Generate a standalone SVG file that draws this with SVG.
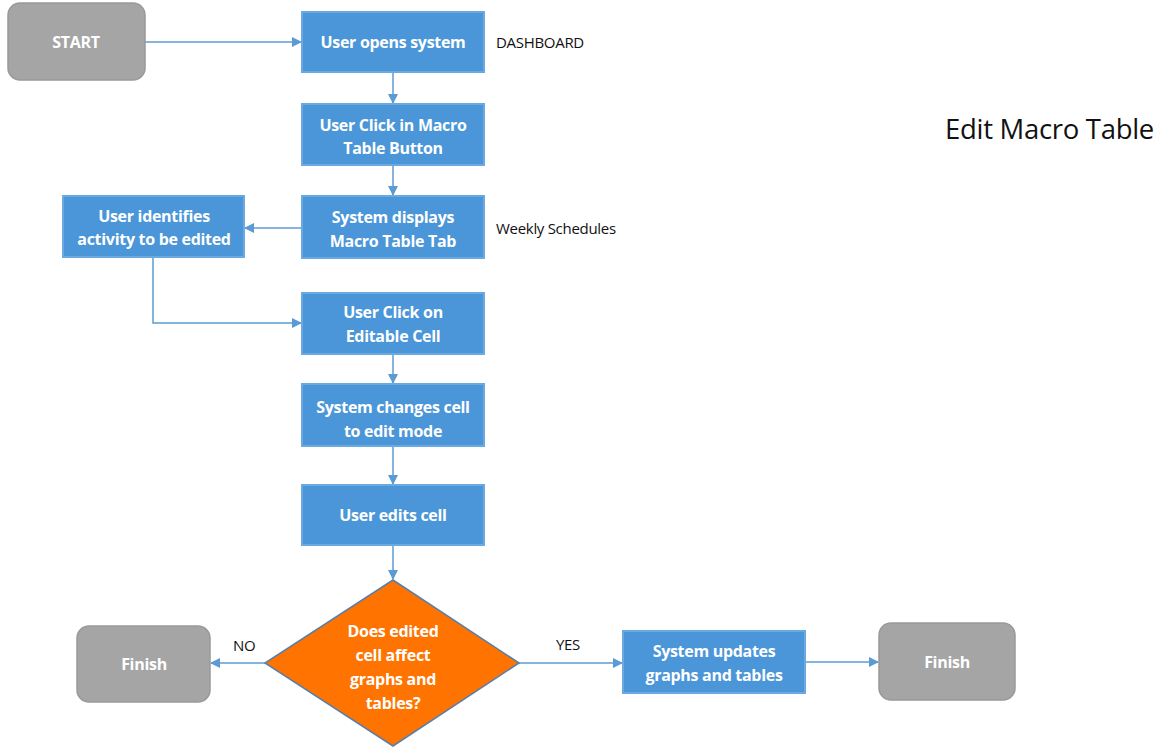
<svg xmlns="http://www.w3.org/2000/svg" width="1166" height="748" viewBox="0 0 1166 748">
<defs>
<marker id="ah" markerWidth="10" markerHeight="10" refX="9" refY="5" orient="auto" markerUnits="userSpaceOnUse">
<path d="M0,0 L10,5 L0,10 Z" fill="#5b9bd5"/>
</marker>
<style>
.blue{fill:#4a96d8;stroke:#6aaae0;stroke-width:2}
.gray{fill:#a5a5a5;stroke:#999;stroke-width:1.5}
.dia{fill:#ff7300;stroke:#5a7ea8;stroke-width:1.5}
.t{font-family:"Open Sans","Liberation Sans",sans-serif;font-weight:bold;font-size:16px;fill:#fff;text-anchor:middle;letter-spacing:-0.3px}
.lbl{font-family:"Open Sans","Liberation Sans",sans-serif;font-size:15px;fill:#111;letter-spacing:-0.3px}
.c{fill:none;stroke:#5b9bd5;stroke-width:1.5;marker-end:url(#ah)}
</style>
</defs>
<rect width="1166" height="748" fill="#fff"/>
<g id="connectors">
<path class="c" d="M145,42 H301"/>
<path class="c" d="M393,72 V103"/>
<path class="c" d="M393,165 V195"/>
<path class="c" d="M302,228 H245"/>
<path class="c" d="M153,257 V323 H301"/>
<path class="c" d="M393,354 V383"/>
<path class="c" d="M393,446 V484"/>
<path class="c" d="M393,545 V579"/>
<path class="c" d="M265,663 H211"/>
<path class="c" d="M519,663 H622"/>
<path class="c" d="M805,662 H878"/>
</g>
<g id="start"><rect class="gray" x="8" y="3" width="137" height="77" rx="12"/><text class="t" x="76" y="48">START</text></g>
<g id="n1"><rect class="blue" x="302" y="12" width="182" height="60"/><text class="t" x="393" y="48">User opens system</text></g>
<g id="n2"><rect class="blue" x="302" y="104" width="182" height="61"/><text class="t" x="393" y="131">User Click in Macro</text><text class="t" x="393" y="154">Table Button</text></g>
<g id="n3"><rect class="blue" x="302" y="196" width="182" height="62"/><text class="t" x="393" y="223">System displays</text><text class="t" x="393" y="247">Macro Table Tab</text></g>
<g id="n4"><rect class="blue" x="63" y="196" width="181" height="61"/><text class="t" x="154" y="222">User identifies</text><text class="t" x="154" y="245">activity to be edited</text></g>
<g id="n5"><rect class="blue" x="302" y="293" width="182" height="61"/><text class="t" x="393" y="318">User Click on</text><text class="t" x="393" y="342">Editable Cell</text></g>
<g id="n6"><rect class="blue" x="302" y="384" width="182" height="62"/><text class="t" x="393" y="413">System changes cell</text><text class="t" x="393" y="437">to edit mode</text></g>
<g id="n7"><rect class="blue" x="302" y="485" width="182" height="60"/><text class="t" x="393" y="521">User edits cell</text></g>
<g id="dec"><polygon class="dia" points="393,580 519,663 393,746 265,663"/>
<text class="t" x="393" y="637">Does edited</text><text class="t" x="393" y="661">cell affect</text><text class="t" x="393" y="685">graphs and</text><text class="t" x="393" y="709">tables?</text></g>
<g id="finish1"><rect class="gray" x="77" y="626" width="133" height="76" rx="12"/><text class="t" x="144" y="670">Finish</text></g>
<g id="n8"><rect class="blue" x="623" y="631" width="182" height="62"/><text class="t" x="714" y="657">System updates</text><text class="t" x="714" y="681">graphs and tables</text></g>
<g id="finish2"><rect class="gray" x="879" y="623" width="136" height="77" rx="12"/><text class="t" x="947" y="668">Finish</text></g>
<g id="labels">
<text class="lbl" x="496" y="48">DASHBOARD</text>
<text class="lbl" x="496" y="234">Weekly Schedules</text>
<text class="lbl" x="233" y="651">NO</text>
<text class="lbl" x="556" y="650">YES</text>
<text x="945" y="139" style="font-family:'Open Sans','Liberation Sans',sans-serif;font-size:27.5px;fill:#111;letter-spacing:-0.3px">Edit Macro Table</text>
</g>
</svg>
